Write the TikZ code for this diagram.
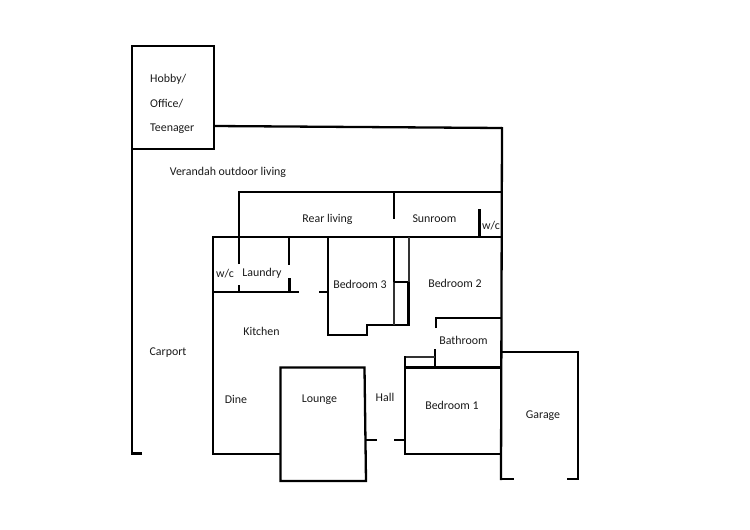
\documentclass[tikz,border=0pt]{standalone}
\usepackage{fontspec}
\setmainfont{Carlito}
\tikzset{
  wall/.style={line width=2.3pt,black,line cap=butt,line join=miter},
  thinwall/.style={line width=1.3pt,black!80,line cap=butt,line join=miter},
  room/.style={font=\fontsize{11.9pt}{14pt}\selectfont,inner sep=0pt,text=black!90},
  roomleft/.style={room,anchor=west}
}
\begin{document}
\begin{tikzpicture}[x=1pt,y=-1pt]
\useasboundingbox (0,0) rectangle (750,530);
% outer
\draw[wall] (132,454) -- (132,46) -- (214,46) -- (214,149) -- (132,149);
\draw[wall] (142,453.5) -- (131,453.5);
\draw[wall] (214,126) -- (502,128);
\draw[wall] (502,127) -- (501,480);
% rear living
\draw[wall] (239,264) -- (239,192) -- (502,192);
\draw[wall] (239,285) -- (239,292);
\draw[wall] (213,237) -- (502,237);
\draw[wall] (394,192) -- (394,219);
\draw[wall] (479.5,209) -- (479.5,237);
% left block
\draw[wall] (213,236) -- (213,454) -- (281,454);
\draw[wall] (213,292) -- (298.5,292);
\draw[wall] (319,292) -- (328,292);
\draw[wall] (289,237) -- (289,265);
\draw[wall] (289.5,278) -- (289.5,292);
% bedroom 3
\draw[wall] (328,237) -- (328,335) -- (367,335) -- (367,325) -- (408.5,325) -- (408.5,282);
\draw[wall] (394,237) -- (394,282);
\draw[thinwall] (394,282) -- (394,325);
\draw[wall] (394,282) -- (409.5,282);
\draw[thinwall] (409,237) -- (409,282);
% bathroom
\draw[wall] (436,328) -- (436,318) -- (502,318);
\draw[wall] (435,349) -- (435,368);
\draw[thinwall] (405,357) -- (435,357);
% bedroom 1
\draw[wall] (405,356) -- (405,454) -- (501,454);
\draw[wall] (405,367.5) -- (501,367.5);
% lounge
\draw[wall] (280.5,481) -- (280.5,367.5) -- (364.5,367.5) -- (366,481) -- cycle;
\draw[wall] (366,440) -- (377,440);
\draw[wall] (394,440) -- (405,440);
% garage
\draw[wall] (501,352) -- (578,352) -- (578,479) -- (567,479);
\draw[wall] (501,479) -- (514,479);
% labels
\node[roomleft] (hobby) at (150,79.5) {Hobby/};
\node[roomleft] (office) at (150,103.5) {Office/};
\node[roomleft] (teen) at (150,128.5) {Teenager};
\node[room] (verandah) at (228,172) {Verandah outdoor living};
\node[room] (rear) at (327.5,219) {Rear living};
\node[room] (sun) at (434.5,219) {Sunroom};
\node[room] (wc1) at (491,226) {w/c};
\node[room] (wc2) at (225,274) {w/c};
\node[room] (laundry) at (262,273) {Laundry};
\node[room] (bed3) at (360,284) {Bedroom 3};
\node[room] (bed2) at (455,283) {Bedroom 2};
\node[room] (kitchen) at (261.5,331) {Kitchen};
\node[room] (bath) at (463.5,340) {Bathroom};
\node[room] (carport) at (168,353) {Carport};
\node[room] (dine) at (236,399) {Dine};
\node[room] (lounge) at (319.5,400) {Lounge};
\node[room] (hall) at (385,397) {Hall};
\node[room] (bed1) at (452,405) {Bedroom 1};
\node[room] (garage) at (543,416) {Garage};
\end{tikzpicture}
\end{document}
